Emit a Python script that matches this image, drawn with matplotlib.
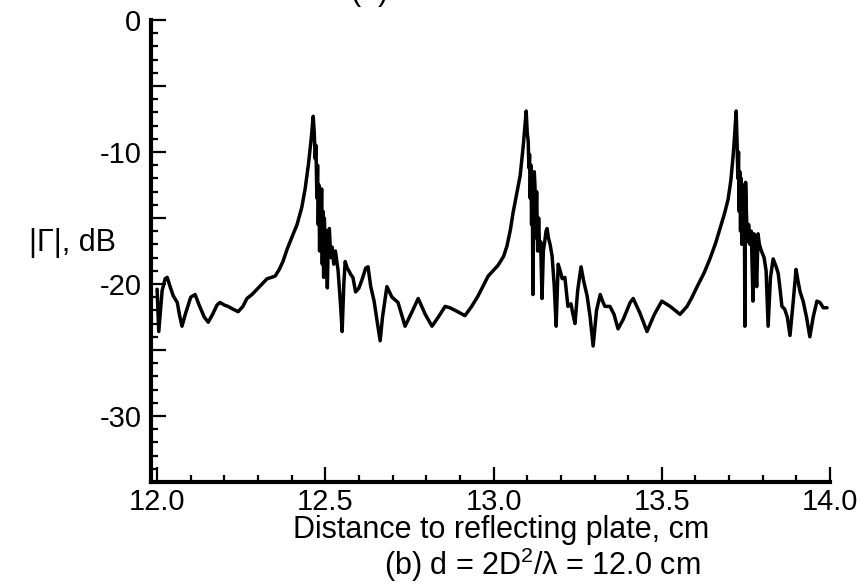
import matplotlib
matplotlib.use("Agg")
import matplotlib.pyplot as plt
from matplotlib.ticker import MultipleLocator, FuncFormatter

plt.rcParams['font.family'] = ['Liberation Sans', 'DejaVu Sans']
plt.rcParams['mathtext.fontset'] = 'custom'
plt.rcParams['mathtext.rm'] = 'Liberation Sans'
plt.rcParams['mathtext.it'] = 'Liberation Sans:italic'

# distance to reflecting plate (cm)
distance_cm = [
    12.000, 12.005, 12.015, 12.024, 12.030, 12.040, 12.048, 12.060, 12.067, 12.074,
    12.085, 12.100, 12.113, 12.125, 12.140, 12.152, 12.165, 12.178, 12.187, 12.200,
    12.211, 12.225, 12.241, 12.255, 12.267, 12.282, 12.297, 12.312, 12.327, 12.340,
    12.351, 12.363, 12.374, 12.386, 12.400, 12.416, 12.430, 12.440, 12.450, 12.458,
    12.464, 12.467, 12.470, 12.472, 12.475, 12.477, 12.479, 12.481, 12.483, 12.485,
    12.487, 12.489, 12.491, 12.493, 12.495, 12.497, 12.500, 12.503, 12.506, 12.509,
    12.512, 12.516, 12.520, 12.525, 12.530, 12.538, 12.545, 12.550, 12.555, 12.559,
    12.565, 12.570, 12.576, 12.582, 12.590, 12.600, 12.610, 12.620, 12.627, 12.635,
    12.645, 12.655, 12.663, 12.670, 12.683, 12.698, 12.716, 12.737, 12.756, 12.776,
    12.797, 12.817, 12.836, 12.856, 12.870, 12.886, 12.915, 12.935, 12.954, 12.984,
    13.013, 13.030, 13.040, 13.050, 13.058, 13.070, 13.079, 13.088, 13.094, 13.097,
    13.100, 13.103, 13.105, 13.107, 13.109, 13.111, 13.113, 13.115, 13.117, 13.119,
    13.121, 13.123, 13.125, 13.128, 13.131, 13.134, 13.137, 13.140, 13.144, 13.148,
    13.152, 13.156, 13.159, 13.163, 13.168, 13.174, 13.180, 13.186, 13.192, 13.198,
    13.204, 13.212, 13.216, 13.221, 13.230, 13.236, 13.242, 13.250, 13.260, 13.268,
    13.278, 13.287, 13.296, 13.306, 13.317, 13.324, 13.331, 13.346, 13.358, 13.370,
    13.385, 13.406, 13.415, 13.435, 13.456, 13.478, 13.500, 13.525, 13.554, 13.575,
    13.590, 13.605, 13.625, 13.643, 13.660, 13.673, 13.686, 13.697, 13.705, 13.712,
    13.717, 13.721, 13.724, 13.726, 13.728, 13.730, 13.732, 13.734, 13.736, 13.738,
    13.740, 13.742, 13.745, 13.747, 13.749, 13.752, 13.755, 13.758, 13.762, 13.766,
    13.771, 13.774, 13.778, 13.782, 13.786, 13.790, 13.796, 13.804, 13.810, 13.816,
    13.823, 13.831, 13.840, 13.846, 13.852, 13.857, 13.865, 13.873, 13.881, 13.890,
    13.899, 13.905, 13.911, 13.920, 13.930, 13.940, 13.950, 13.961, 13.970, 13.980,
    13.991,
]

# reflection coefficient magnitude (dB)
gamma_db = [
    -20.4, -23.6, -20.5, -19.6, -19.5, -20.3, -20.9, -21.4, -22.4, -23.2,
    -22.2, -21.0, -20.8, -21.6, -22.5, -22.9, -22.3, -21.6, -21.4, -21.6,
    -21.7, -21.9, -22.1, -21.7, -21.1, -20.8, -20.4, -20.0, -19.6, -19.5,
    -19.4, -18.9, -18.3, -17.4, -16.5, -15.5, -14.2, -12.8, -10.9, -9.0,
    -7.3, -8.5, -10.5, -9.5, -13.5, -11.0, -15.5, -12.5, -17.5, -13.0,
    -16.0, -12.8, -18.5, -14.5, -19.5, -15.0, -17.0, -16.0, -20.3, -16.5,
    -15.8, -18.0, -17.2, -18.5, -17.5, -19.0, -21.5, -23.6, -20.0, -18.3,
    -18.8, -19.0, -19.3, -19.5, -20.6, -20.3, -19.6, -18.8, -18.7, -20.2,
    -21.3, -23.0, -24.3, -22.5, -20.2, -21.0, -21.4, -23.2, -22.2, -21.1,
    -22.3, -23.2, -22.5, -21.7, -21.8, -22.0, -22.4, -21.7, -20.9, -19.4,
    -18.6, -17.9, -17.1, -15.9, -14.6, -13.0, -11.8, -9.6, -7.8, -6.9,
    -8.5, -9.2, -11.2, -10.2, -13.5, -11.0, -15.5, -12.0, -20.8, -13.5,
    -11.5, -12.5, -16.5, -13.0, -17.5, -15.0, -17.5, -16.8, -21.1, -17.5,
    -16.8, -16.0, -15.8, -16.5, -17.0, -17.9, -20.0, -23.2, -18.5, -19.0,
    -19.6, -19.5, -20.5, -21.7, -21.5, -22.3, -23.0, -20.5, -18.7, -19.8,
    -20.9, -22.5, -24.7, -22.0, -20.8, -21.3, -21.7, -21.7, -22.3, -23.4,
    -22.7, -21.4, -21.1, -22.2, -23.6, -22.3, -21.3, -21.7, -22.3, -21.7,
    -21.0, -20.2, -19.2, -18.1, -16.9, -15.8, -14.7, -13.6, -12.2, -10.3,
    -8.5, -6.9, -9.5, -12.0, -10.0, -14.5, -11.5, -16.0, -12.0, -17.0,
    -13.0, -15.5, -12.5, -23.2, -12.3, -15.0, -16.8, -15.5, -17.0, -16.0,
    -21.3, -16.2, -18.0, -20.2, -16.2, -17.0, -17.5, -18.0, -19.0, -23.2,
    -19.5, -18.1, -18.7, -19.2, -20.5, -21.7, -21.9, -22.5, -23.9, -21.5,
    -18.9, -19.8, -20.6, -21.3, -22.5, -24.0, -22.5, -21.3, -21.4, -21.8,
    -21.8,
]

x_major_ticks = [12.0, 12.5, 13.0, 13.5, 14.0]
y_labelled_ticks = [0, -10, -20, -30]

fig = plt.figure(figsize=(8.63, 5.84), dpi=100)
ax = fig.add_axes([0.175, 0.1747, 0.9618 - 0.175, 0.9658 - 0.1747])

ax.plot(distance_cm, gamma_db, color='black', lw=2.5,
        solid_joinstyle='round', solid_capstyle='round')

ax.set_xlim(11.982, 14.0)
ax.set_ylim(-35, 0)

ax.spines['top'].set_visible(False)
ax.spines['right'].set_visible(False)
for s in ('left', 'bottom'):
    ax.spines[s].set_linewidth(3.0)

ax.set_xticks(x_major_ticks)
ax.xaxis.set_major_formatter(FuncFormatter(lambda v, p: f"{v:.1f}"))
ax.xaxis.set_minor_locator(MultipleLocator(0.1))
ax.yaxis.set_major_locator(MultipleLocator(5))
ax.yaxis.set_minor_locator(MultipleLocator(1))
ax.yaxis.set_major_formatter(FuncFormatter(
    lambda v, p: (f"{int(round(v))}" if int(round(v)) in y_labelled_ticks else "")))

ax.tick_params(axis='both', which='major', direction='in', length=11, width=1.6,
               labelsize=21, color='black')
ax.tick_params(axis='both', which='minor', direction='in', length=5, width=1.6,
               color='black')
ax.tick_params(axis='y', which='major', pad=7)
ax.tick_params(axis='x', which='major', pad=4)

fig.text(0.034, 1 - 243 / 584, "|Γ|, dB", fontsize=22, ha='left', va='center')
fig.text(501 / 863, 1 - 530 / 584, "Distance to reflecting plate, cm",
         fontsize=22, ha='center', va='center')
fig.text(542 / 863, 1 - 565 / 584, r"(b) d = 2D$^{\mathregular{2}}$/λ = 12.0 cm",
         fontsize=22, ha='center', va='center')
# caption of the panel above, mostly outside the picture as in the reference
fig.text(350 / 863, 1.0 - 1.0 / 584, "(a) d = D$^{\\mathregular{2}}$/λ = 6.0 cm",
         fontsize=22, ha='left', va='baseline')

fig.savefig("out.png", dpi=100, facecolor='white')
